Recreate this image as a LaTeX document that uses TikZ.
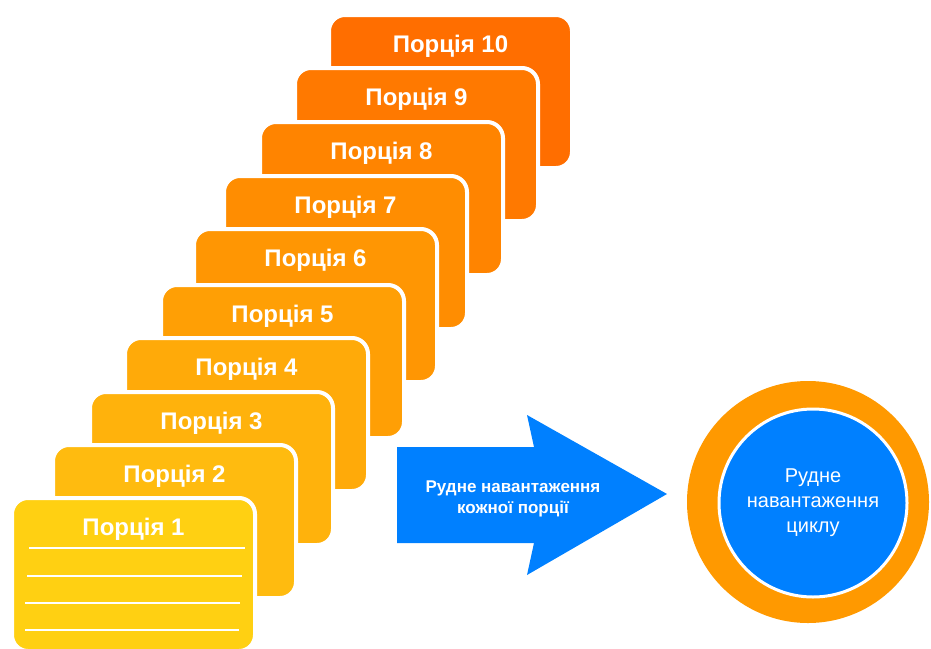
\documentclass[tikz,border=0pt]{standalone}
\usepackage{fontspec}
\setmainfont{Liberation Sans}
\definecolor{cA}{HTML}{FFD012}
\definecolor{cB}{HTML}{FFBB0F}
\definecolor{cC}{HTML}{FFB20C}
\definecolor{cD}{HTML}{FFAA09}
\definecolor{cE}{HTML}{FF9F05}
\definecolor{cF}{HTML}{FF9603}
\definecolor{cG}{HTML}{FF8D01}
\definecolor{cH}{HTML}{FF8400}
\definecolor{cI}{HTML}{FF7900}
\definecolor{cJ}{HTML}{FF6E00}
\definecolor{arrowblue}{HTML}{0080FF}
\definecolor{ringorange}{HTML}{FF9900}
\tikzset{
  card/.style={rectangle, rounded corners=16pt, draw=white, line width=4pt,
    minimum width=243pt, minimum height=153pt, inner sep=0pt, outer sep=0pt, anchor=north west},
  cardlabel/.style={text=white, font=\fontsize{24}{28}\selectfont\bfseries, anchor=base, inner sep=0pt},
  ruled/.style={draw=white, line width=1.3pt},
}
\begin{document}
\begin{tikzpicture}[x=1pt,y=-1pt]
\useasboundingbox (0,0) rectangle (931,648);
% cards, from back to front
\foreach \k/\lx/\ty/\col in {10/329/15/cJ, 9/295/68/cI, 8/260/122/cH, 7/224/176/cG, 6/194/229/cF,
                              5/161/285/cE, 4/125/338/cD, 3/90/392/cC, 2/53/445/cB, 1/12/498/cA}{
  \node[card, fill=\col] (c\k) at (\lx,\ty) {};
  \node[cardlabel] (t\k) at ([yshift=-37pt]c\k.north) {Порція \k};
}
% ruled lines on card 1
\draw[ruled] (29,548) -- (245,548);
\draw[ruled] (27,576) -- (242,576);
\draw[ruled] (25,603) -- (240,603);
\draw[ruled] (25,630) -- (239,630);
% arrow
\fill[arrowblue] (397,447) -- (534,447) -- (527,415) -- (667,494) -- (527,575) -- (534,543) -- (397,543) -- cycle;
\node[text=white, font=\fontsize{17}{21}\selectfont\bfseries, align=center, anchor=base, inner sep=0pt]
  (atext) at (513,513) {Рудне навантаження\\кожної порції};
% circle
\node[circle, fill=ringorange, minimum size=242pt, inner sep=0pt] (ring) at (808,502) {};
\node[circle, fill=arrowblue, draw=white, line width=3pt, minimum size=188pt, inner sep=0pt,
      text=white, align=center, font=\fontsize{20}{25}\selectfont] (core) at (813,503)
  {Рудне\\навантаження\\циклу};
\end{tikzpicture}
\end{document}
